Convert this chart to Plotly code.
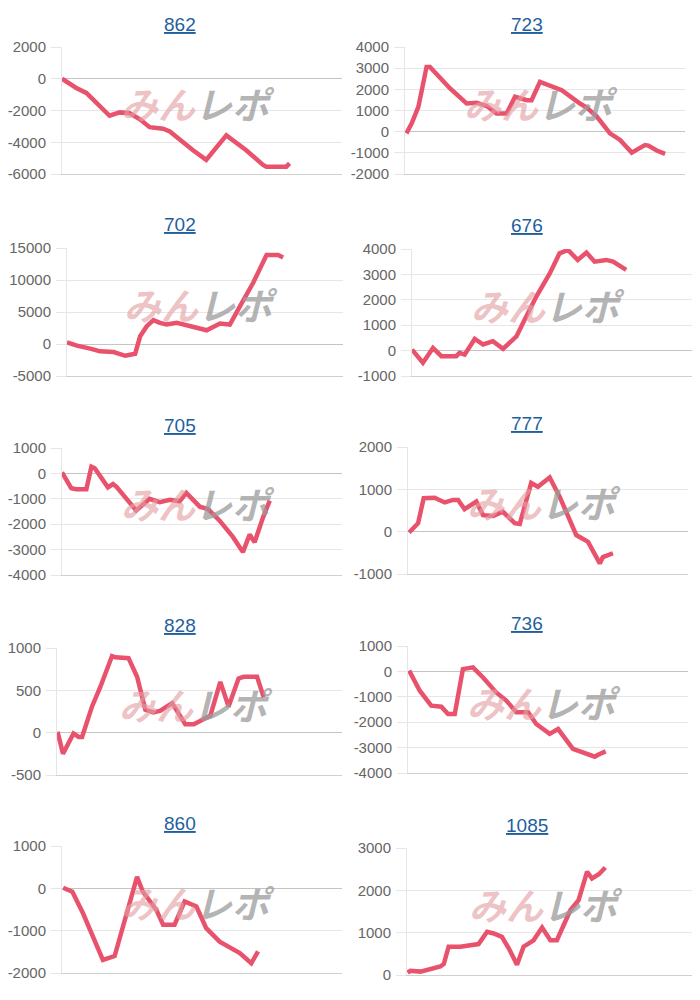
import plotly.graph_objects as go

# ---------------- data ----------------
titles = ["862", "723", "702", "676", "705", "777", "828", "736", "860", "1085"]

x_862 = [0, 5.1, 8.7, 17.0, 20.6, 24.2, 27.7, 31.3, 36.1, 38.5, 46.8, 51.5, 58.7, 65.8, 71.8, 73.0, 80.1, 81.3]
y_862 = [0, -580, -890, -2330, -2120, -2170, -2540, -3050, -3150, -3320, -4500, -5110, -3570, -4500, -5430, -5540, -5540, -5330]

x_723 = [0.5, 2.4, 4.8, 7.7, 8.9, 13.7, 16.1, 22.0, 25.6, 29.2, 32.7, 36.3, 39.3, 43.5, 45.2, 48.2, 51.8, 54.8, 56.0, 62.5, 64.9, 68.5, 73.2, 76.8, 81.0, 82.7, 85.7, 86.9, 89.9, 92.9]
y_723 = [-80, 390, 1180, 3060, 3060, 2350, 2040, 1330, 1370, 1210, 860, 860, 1650, 1490, 1490, 2350, 2160, 2040, 1960, 1330, 1140, 710, -80, -390, -990, -860, -630, -660, -890, -1050]

x_702 = [0, 3.6, 8.4, 12.0, 16.9, 21.1, 24.7, 26.5, 28.9, 31.3, 33.7, 36.1, 39.8, 43.4, 49.4, 50.6, 55.4, 59.0, 62.7, 67.5, 72.3, 76.5, 78.3]
y_702 = [260, -260, -730, -1150, -1260, -1840, -1520, 1210, 2780, 3730, 3310, 3040, 3310, 2890, 2150, 2150, 3200, 3040, 5930, 9600, 13900, 13900, 13530]

x_676 = [0, 3.9, 7.5, 10.5, 15.8, 17.0, 18.8, 22.4, 25.4, 28.9, 32.5, 37.3, 39.6, 44.4, 49.2, 52.7, 55.7, 59.2, 62.3, 65.2, 69.4, 71.8, 76.5]
y_676 = [40, -480, 100, -220, -220, -90, -160, 460, 240, 370, 70, 560, 1080, 2130, 3040, 3830, 3960, 3570, 3860, 3500, 3570, 3500, 3180]

x_705 = [0, 3.3, 5.1, 8.7, 10.5, 11.7, 16.4, 18.2, 19.4, 26.5, 31.3, 34.9, 38.5, 42.0, 44.4, 49.2, 52.1, 56.3, 61.1, 64.6, 67.0, 68.8, 71.8, 74.2]
y_705 = [40, -580, -620, -620, 260, 200, -550, -420, -520, -1460, -1000, -1130, -1040, -1100, -770, -1310, -1400, -1860, -2510, -3100, -2410, -2710, -1730, -1070]

x_777 = [0.4, 1.8, 3.6, 5.6, 9.5, 13.1, 16.1, 17.9, 20.2, 24.4, 26.8, 30.4, 33.9, 38.1, 39.9, 44.0, 46.4, 50.6, 54.2, 60.1, 64.3, 68.5, 69.6, 73.2]
y_777 = [-20, 80, 200, 790, 800, 690, 750, 750, 530, 710, 390, 370, 470, 200, 180, 1150, 1060, 1280, 820, -80, -240, -750, -600, -510]

x_828 = [0.2, 2.1, 5.8, 7.6, 8.8, 12.3, 15.2, 19.3, 20.5, 25.1, 28.1, 31.0, 33.9, 36.3, 40.4, 45.0, 48.0, 53.8, 57.3, 60.2, 63.7, 65.5, 70.2, 72.5]
y_828 = [10, -250, -10, -50, -50, 310, 540, 905, 890, 880, 660, 270, 240, 260, 350, 100, 100, 200, 600, 310, 640, 660, 660, 420]

x_736 = [0.4, 4.2, 8.3, 11.9, 14.3, 16.7, 19.6, 23.2, 26.8, 31.5, 35.1, 38.7, 42.9, 45.8, 50.6, 53.6, 58.9, 62.5, 66.7, 67.9, 70.6]
y_736 = [30, -760, -1350, -1390, -1680, -1680, 90, 160, -240, -830, -1150, -1610, -1610, -2070, -2460, -2270, -3050, -3180, -3360, -3280, -3150]

x_860 = [0.4, 3.7, 7.5, 14.6, 18.8, 26.8, 28.9, 33.7, 36.1, 40.2, 43.8, 48.0, 51.5, 56.3, 63.5, 67.6, 70.0]
y_860 = [15, -80, -590, -1690, -1600, 270, -80, -510, -860, -860, -310, -430, -940, -1260, -1530, -1770, -1490]

x_1085 = [0.2, 1.2, 4.7, 7.0, 8.2, 11.7, 12.9, 14.6, 18.7, 20.5, 25.1, 28.1, 30.4, 33.3, 35.7, 38.6, 40.9, 44.4, 47.4, 50.3, 52.6, 57.3, 60.2, 63.2, 64.9, 67.3, 69.6]
y_1085 = [55, 100, 80, 120, 160, 200, 260, 670, 670, 690, 730, 1020, 980, 900, 630, 240, 670, 820, 1120, 820, 820, 1530, 1770, 2440, 2280, 2380, 2540]

xs = [x_862, x_723, x_702, x_676, x_705, x_777, x_828, x_736, x_860, x_1085]
ys = [y_862, y_723, y_702, y_676, y_705, y_777, y_828, y_736, y_860, y_1085]

y_ranges = [(-6000, 2000), (-2000, 4000), (-5000, 15000), (-1000, 4000), (-4000, 1000),
            (-1000, 2000), (-500, 1000), (-4000, 1000), (-2000, 1000), (0, 3000)]
y_dticks = [2000, 1000, 5000, 1000, 1000, 1000, 500, 1000, 1000, 1000]

# ---------------- layout (pixel boxes of each plot area) ----------------
W, H = 700, 1000
boxes = [  # left, right, top, bottom in px
    (62, 342, 47, 174), (405, 685, 47, 174),
    (67, 343, 248, 376), (412, 692, 249, 376),
    (62, 342, 448, 575), (408, 688, 447, 574),
    (57, 342, 648, 775), (408, 688, 646, 773),
    (62, 342, 846, 973), (407, 692, 848, 975),
]
title_x = [180, 527]

LINE = "#e9526c"
GRID = "#e6e6e6"
FONT = "Arial, Liberation Sans, sans-serif"

fig = go.Figure()
annotations = []
for i in range(10):
    l, r, t, b = boxes[i]
    n = "" if i == 0 else str(i + 1)
    xa, ya = "xaxis" + n, "yaxis" + n
    lo, hi = y_ranges[i]
    tv = list(range(lo, hi + 1, y_dticks[i]))
    fig.add_trace(go.Scatter(x=xs[i], y=ys[i], mode="lines",
                             line=dict(color=LINE, width=4.5),
                             xaxis="x" + n, yaxis="y" + n,
                             showlegend=False, hoverinfo="skip"))
    fig.layout[xa] = dict(domain=[l / W, r / W], range=[0, 100], anchor="y" + n,
                          showgrid=False, zeroline=False, showticklabels=False,
                          showline=True, linecolor="#d0d0d0", linewidth=1,
                          automargin=False, fixedrange=True)
    fig.layout[ya] = dict(domain=[1 - b / H, 1 - t / H], range=[lo, hi],
                          tickmode="array", tickvals=tv, ticktext=[str(v) for v in tv],
                          anchor="x" + n,
                          showgrid=True, gridcolor=GRID, gridwidth=1,
                          zeroline=True, zerolinecolor="#c4c4c4", zerolinewidth=1,
                          showline=True, linecolor=GRID, linewidth=1,
                          ticks="outside", ticklen=10, tickcolor=GRID,
                          ticklabelstandoff=2, automargin=False,
                          tickfont=dict(family=FONT, size=15, color="#666666"),
                          fixedrange=True)
    # title (link style)
    annotations.append(dict(
        text="<span style='text-decoration:underline'>" + titles[i] + "</span>",
        x=title_x[i % 2] / W, y=1 - (t - 23) / H, xref="paper", yref="paper",
        showarrow=False, xanchor="center", yanchor="middle",
        font=dict(family=FONT, size=19, color="#1f5f9e")))
    # watermark
    annotations.append(dict(
        text="<b><i><span style='color:rgba(228,160,164,0.65)'>みん</span>"
             "<span style='color:rgba(155,155,155,0.75)'>レポ</span></i></b>",
        x=((l + r) / 2 - 4) / W, y=1 - ((t + b) / 2 - 8) / H, xref="paper", yref="paper",
        showarrow=False, xanchor="center", yanchor="middle",
        font=dict(family="Noto Sans CJK JP", size=37)))

fig.update_layout(width=W, height=H, margin=dict(l=0, r=0, t=0, b=0, autoexpand=False),
                  paper_bgcolor="white", plot_bgcolor="white",
                  annotations=annotations)

fig.write_html("out.html", config={"displayModeBar": False})
